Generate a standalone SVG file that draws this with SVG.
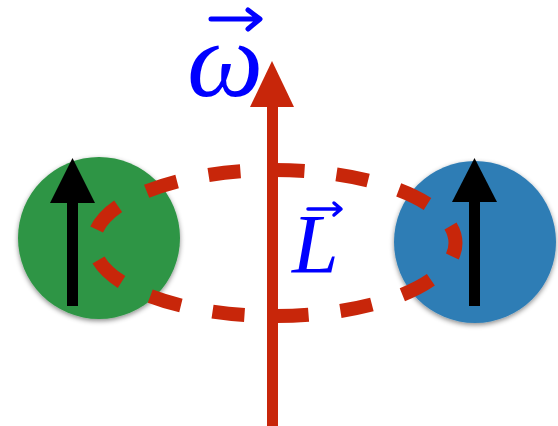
<svg xmlns="http://www.w3.org/2000/svg" width="558" height="426" viewBox="0 0 558 426">
<defs>
<filter id="sh" x="-20%" y="-20%" width="140%" height="140%">
<feDropShadow dx="0" dy="2" stdDeviation="2.5" flood-color="#000" flood-opacity="0.45"/>
</filter>
</defs>
<style>
.red{fill:#c8260a}
.orbit{fill:none;stroke:#c8260a;stroke-width:14;stroke-dasharray:32 32}
.spin{fill:#000}
.lbl{font-family:"Liberation Serif",serif;font-style:italic;fill:#0000ff}
.vec{stroke:#0000ff;fill:none;stroke-linecap:round;stroke-linejoin:round}
</style>
<rect width="558" height="426" fill="#fff"/>
<g id="green-particle">
<circle cx="99" cy="238" r="81" fill="#2e9545" filter="url(#sh)"/>
<rect x="67" y="200" width="11" height="106" class="spin"/>
<polygon points="72.5,158 50,203 95,203" class="spin"/>
</g>
<g id="blue-particle">
<circle cx="475" cy="242" r="81" fill="#2f7db5" filter="url(#sh)"/>
<rect x="469" y="200" width="11" height="106" class="spin"/>
<polygon points="474.5,158 452,202 497,202" class="spin"/>
</g>
<g id="connectors">
<ellipse cx="274.5" cy="243" rx="181" ry="73" class="orbit" pathLength="832" stroke-dashoffset="18"/>
<rect x="267" y="104" width="11" height="322" class="red"/>
<polygon points="272,61 250,107 294,107" class="red"/>
</g>
<g id="omega-label">
<text x="187" y="96" class="lbl" font-size="108">ω</text>
<path d="M211,19 L259,19 M248,10 L260,19 L248,29" class="vec" stroke-width="5"/>
</g>
<g id="L-label">
<text x="292" y="273" class="lbl" font-size="84">L</text>
<path d="M308,209 L340,209 M334,203 L341,209 L334,215" class="vec" stroke-width="3.5"/>
</g>
</svg>
